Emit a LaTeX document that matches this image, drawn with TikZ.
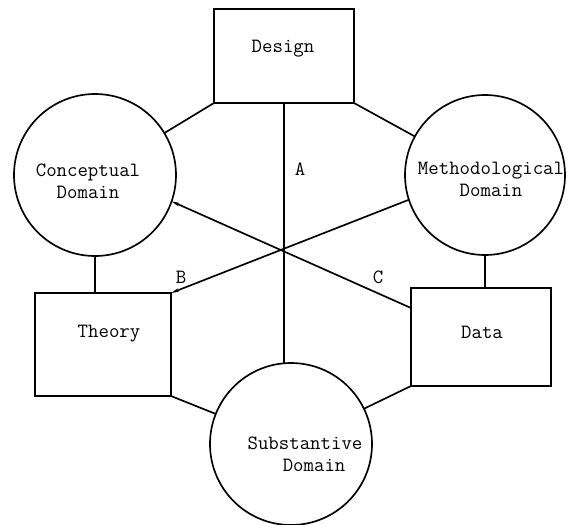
\documentclass[tikz,border=0pt]{standalone}
\usetikzlibrary{arrows.meta}
\begin{document}
\begin{tikzpicture}[x=0.75pt,y=-0.75pt,
  line width=1.25pt,
  every node/.style={inner sep=0pt, outer sep=0pt},
  txt/.style={font=\ttfamily\fontsize{15.2}{16.5}\selectfont, align=center},
  boxnode/.style={draw, rectangle},
  domcircle/.style={draw, circle},
  link/.style={line width=1.25pt},
  tip/.style={-{Stealth[length=6pt,width=2.6pt]}}]
\useasboundingbox (0,0) rectangle (572,525);

% boxes
\node[boxnode, minimum width=105pt, minimum height=70.5pt] (design) at (284,56) {};
\node[boxnode, minimum width=102pt, minimum height=77.25pt] (theory) at (103,344.5) {};
\node[boxnode, minimum width=105pt, minimum height=73.5pt] (data) at (481,337) {};

% domains
\node[domcircle, minimum size=121.5pt] (conc) at (95,175) {};
\node[domcircle, minimum size=120pt] (meth) at (485,175) {};
\node[domcircle, minimum size=121.5pt] (subst) at (291,444) {};

% texts
\node[txt] (designT) at (283,49) {Design};
\node[txt] (theoryT) at (109,334) {Theory};
\node[txt] (dataT) at (482,332) {Data};
\node[txt] (concT) at (88,181) {Conceptual\\Domain};
\node[txt] (methT) at (491,179) {Methodological\\Domain};
\node[txt] (substT) at (305,454) {Substantive\\\hspace*{0.9em}Domain};

% letters on the crossing lines
\node[txt] (la) at (300,169) {A};
\node[txt] (lb) at (181,277) {B};
\node[txt] (lc) at (378,277) {C};

% connectors
\coordinate (dataC) at ([yshift=-15pt]data.north west);
\draw[link] (design.south west) -- (conc);
\draw[link] (design.south east) -- (meth);
\draw[link] (design.south) -- (design.south |- subst.north);
\draw[link] (conc.south) -- (conc.south |- theory.north);
\draw[link] (meth.south) -- (meth.south |- data.north);
\draw[link] (theory.south east) -- (subst);
\draw[link] (data.south west) -- (subst);
\draw[link, tip] (dataC) -- (conc.-19);
\draw[link, tip] (meth.198) -- (theory.north east);
\end{tikzpicture}
\end{document}
